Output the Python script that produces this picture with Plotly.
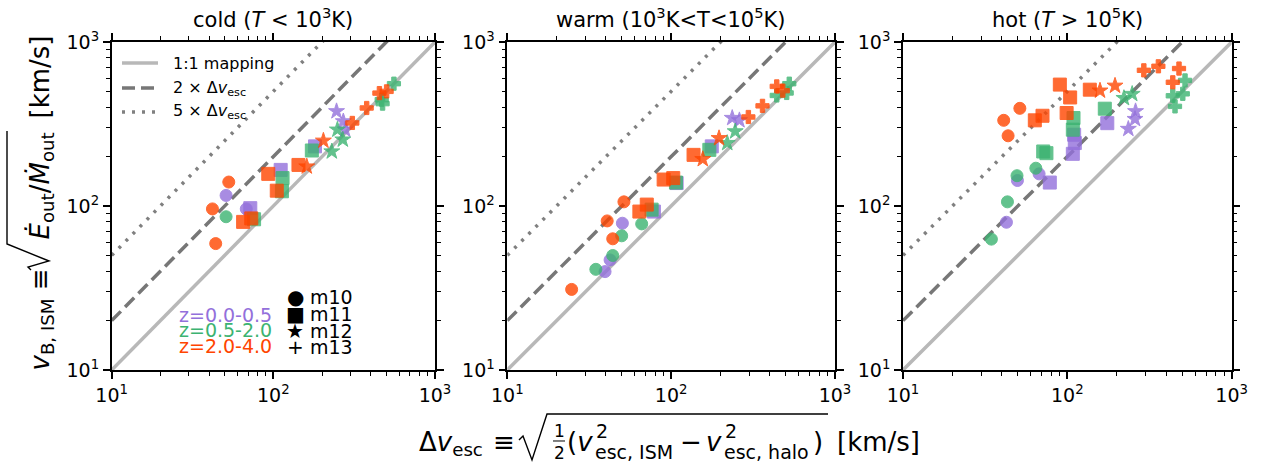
import plotly.graph_objects as go

W, H = 1266, 463
FONT = "DejaVu Sans"

# ---------------- data ----------------
HALOS = ["m10", "m11", "m12", "m13"]
HALO_SYMBOLS = ["circle", "square", "star", "cross"]
HALO_SIZES = [12, 13, 12, 11]
Z_BINS = ["z=0.0-0.5", "z=0.5-2.0", "z=2.0-4.0"]
Z_COLORS = ["#9370DB", "#3CB371", "#FF4500"]

PANEL_TITLES = [
    "cold (<i>T</i> < 10<sup>3</sup>K)",
    "warm (10<sup>3</sup>K<T<10<sup>5</sup>K)",
    "hot (<i>T</i> > 10<sup>5</sup>K)",
]

# cold phase: Delta v_esc [km/s], v_B,ISM [km/s], halo, redshift bin
COLD_DV = [51, 68, 51, 53, 42, 44,
           72, 111, 181, 76, 114, 113, 173, 65, 73, 93, 105, 143,
           246, 271, 278, 249, 269, 230, 161, 204,
           468, 474, 557, 308, 378, 453, 502]
COLD_VB = [116, 96, 86, 140, 96, 59,
           97, 166, 231, 83, 148, 123, 218, 80, 84, 157, 124, 178,
           378, 328, 292, 292, 254, 215, 174, 250,
           445, 421, 557, 321, 396, 488, 500]
COLD_HALO = ["m10", "m10", "m10", "m10", "m10", "m10",
             "m11", "m11", "m11", "m11", "m11", "m11", "m11", "m11", "m11", "m11", "m11", "m11",
             "m12", "m12", "m12", "m12", "m12", "m12", "m12", "m12",
             "m13", "m13", "m13", "m13", "m13", "m13", "m13"]
COLD_Z = [0, 0, 1, 2, 2, 2,
          0, 0, 0, 1, 1, 1, 1, 2, 2, 2, 2, 2,
          0, 0, 0, 1, 1, 1, 2, 2,
          1, 1, 1, 2, 2, 2, 2]

# warm phase
WARM_DV = [39.5, 42.4, 50.4, 34.7, 44.0, 49.9, 66.1, 24.7, 44.0, 40.7, 51.5,
           78.5, 108, 177, 76, 107, 171, 64, 71, 90, 103, 137,
           236, 261, 220, 246, 156, 196,
           441, 507, 526, 296, 361, 441, 480]
WARM_VB = [39.8, 46.9, 78.5, 41.1, 49.9, 65.8, 77.8, 31.0, 63.1, 81.1, 106,
           92.5, 138, 231, 95, 139, 220, 92.5, 102, 145, 148, 205,
           344, 333, 242, 285, 193, 259,
           472, 489, 557, 349, 408, 536, 505]
WARM_HALO = ["m10", "m10", "m10", "m10", "m10", "m10", "m10", "m10", "m10", "m10", "m10",
             "m11", "m11", "m11", "m11", "m11", "m11", "m11", "m11", "m11", "m11", "m11",
             "m12", "m12", "m12", "m12", "m12", "m12",
             "m13", "m13", "m13", "m13", "m13", "m13", "m13"]
WARM_Z = [0, 0, 0, 1, 1, 1, 1, 2, 2, 2, 2,
          0, 0, 0, 1, 1, 1, 2, 2, 2, 2, 2,
          0, 0, 1, 1, 2, 2,
          1, 1, 1, 2, 2, 2, 2]

# hot phase
HOT_DV = [42.6, 49.7, 67.3, 34.5, 43.2, 49.4, 64.3, 41.0, 43.6, 51.4,
          78.2, 110, 111, 108, 175, 71.3, 74.6, 109, 108, 169, 63.4, 70.6, 90, 104, 99, 137,
          235, 258, 260, 221, 248, 158, 195,
          520, 438, 504, 452, 292, 358, 478, 438]
HOT_VB = [79.6, 143, 157, 62.8, 106, 153, 170, 333, 268, 394,
          139, 272, 242, 208, 320, 215, 210, 344, 292, 392, 333, 355, 550, 459, 369, 512,
          295, 339, 378, 455, 482, 505, 541,
          583, 470, 483, 405, 672, 711, 689, 568]
HOT_HALO = ["m10", "m10", "m10", "m10", "m10", "m10", "m10", "m10", "m10", "m10",
            "m11", "m11", "m11", "m11", "m11", "m11", "m11", "m11", "m11", "m11",
            "m11", "m11", "m11", "m11", "m11", "m11",
            "m12", "m12", "m12", "m12", "m12", "m12", "m12",
            "m13", "m13", "m13", "m13", "m13", "m13", "m13", "m13"]
HOT_Z = [0, 0, 0, 1, 1, 1, 1, 2, 2, 2,
         0, 0, 0, 0, 0, 1, 1, 1, 1, 1, 2, 2, 2, 2, 2, 2,
         0, 0, 0, 1, 1, 2, 2,
         1, 1, 1, 1, 2, 2, 2, 2]

PANELS = [
    (COLD_DV, COLD_VB, COLD_HALO, COLD_Z),
    (WARM_DV, WARM_VB, WARM_HALO, WARM_Z),
    (HOT_DV, HOT_VB, HOT_HALO, HOT_Z),
]

# reference relations v_B = k * Delta v_esc
REF_FACTORS = [1, 2, 5]
REF_LABELS = ["1:1 mapping", "2 × Δ<i>v</i><sub>esc</sub>", "5 × Δ<i>v</i><sub>esc</sub>"]
REF_COLORS = ["#b8b8b8", "#777777", "#808080"]
REF_DASH = ["solid", "13px,6px", "3px,7px"]
REF_X = [10, 1000]

MAJOR_TICKS = [10, 100, 1000]
MAJOR_LABELS = ["10<sup>1</sup>", "10<sup>2</sup>", "10<sup>3</sup>"]
MINOR_TICKS = [20, 30, 40, 50, 60, 70, 80, 90, 200, 300, 400, 500, 600, 700, 800, 900]

# ---------------- layout helpers (pixel -> paper) ----------------
def px(x):
    return x / W


def py(y):
    return 1 - y / H


X_DOMAINS = [(111.7, 435.0), (507.3, 835.0), (903.0, 1231.7)]
Y_DOMAIN = (370.0, 42.0)

fig = go.Figure()

for i, (dv, vb, halo, zb) in enumerate(PANELS):
    xa = "x" if i == 0 else f"x{i + 1}"
    ya = "y" if i == 0 else f"y{i + 1}"
    for k, col, dash in zip(REF_FACTORS, REF_COLORS, REF_DASH):
        fig.add_trace(go.Scatter(
            x=REF_X, y=[k * v for v in REF_X], mode="lines",
            line=dict(color=col, width=3.5, dash=dash),
            xaxis=xa, yaxis=ya, showlegend=False, hoverinfo="skip"))
    for h, sym, size in zip(HALOS, HALO_SYMBOLS, HALO_SIZES):
        for z, col in enumerate(Z_COLORS):
            xs = [a for a, hh, zz in zip(dv, halo, zb) if hh == h and zz == z]
            ys = [b for b, hh, zz in zip(vb, halo, zb) if hh == h and zz == z]
            if not xs:
                continue
            fig.add_trace(go.Scatter(
                x=xs, y=ys, mode="markers",
                marker=dict(symbol=sym, size=size, color=col, opacity=0.8,
                            line=dict(color=col, width=1)),
                xaxis=xa, yaxis=ya, showlegend=False))

axis_style = dict(
    type="log", range=[1, 3], showline=True, linecolor="black", linewidth=1.5,
    mirror="allticks", ticks="outside", ticklen=7, tickwidth=1.5, tickcolor="black",
    tickmode="array", tickvals=MAJOR_TICKS, ticktext=MAJOR_LABELS,
    tickfont=dict(family=FONT, size=19, color="black"),
    showgrid=False, zeroline=False, automargin=False,
    minor=dict(tickmode="array", tickvals=MINOR_TICKS, ticks="outside",
               ticklen=4, tickwidth=1, tickcolor="black", showgrid=False),
)

layout = dict(
    width=W, height=H, margin=dict(l=0, r=0, t=0, b=0, pad=0, autoexpand=False),
    paper_bgcolor="white", plot_bgcolor="white", showlegend=False,
    font=dict(family=FONT, color="black"),
)
for i, (x0, x1) in enumerate(X_DOMAINS):
    sx = "" if i == 0 else str(i + 1)
    layout[f"xaxis{sx}"] = dict(axis_style, domain=[px(x0), px(x1)],
                                anchor=f"y{sx}")
    layout[f"yaxis{sx}"] = dict(axis_style, domain=[py(Y_DOMAIN[0]), py(Y_DOMAIN[1])],
                                anchor=f"x{sx}")
fig.update_layout(**layout)

annotations = []
shapes = []


def text(x, y, s, size, xanchor="center", yanchor="middle", color="black", angle=0):
    annotations.append(dict(
        x=px(x), y=py(y), xref="paper", yref="paper", text=s, showarrow=False,
        xanchor=xanchor, yanchor=yanchor, borderpad=0, textangle=angle,
        font=dict(family=FONT, size=size, color=color)))


def path(points, width=1.4, color="black"):
    d = "M " + " L ".join(f"{px(a):.5f},{py(b):.5f}" for a, b in points)
    shapes.append(dict(type="path", path=d, xref="paper", yref="paper",
                       line=dict(color=color, width=width)))


# panel titles
for (x0, x1), title in zip(X_DOMAINS, PANEL_TITLES):
    text((x0 + x1) / 2, 18, title, 21)

# line legend in the first panel
for row_y, lab, col, dash in zip([63, 88, 112], REF_LABELS, REF_COLORS, REF_DASH):
    shapes.append(dict(type="line", xref="paper", yref="paper",
                       x0=px(122), x1=px(158), y0=py(row_y), y1=py(row_y),
                       line=dict(color=col, width=3.5, dash=dash)))
    text(172, row_y, lab, 16, xanchor="left")

# marker / redshift key
for row_y, glyph, h in zip([297, 314, 331, 347], ["●", "■", "★", "+"], HALOS):
    text(295, row_y, glyph, 20)
    text(309, row_y, h, 19, xanchor="left")
for row_y, lab, col in zip([315, 330, 346], Z_BINS, Z_COLORS):
    text(273, row_y, lab, 19, xanchor="right", color=col)

# x-axis label: Δv_esc ≡ sqrt( 1/2 (v²_esc,ISM − v²_esc,halo) ) [km/s]
XT = 426
text(418, XT, "Δ<i>v</i><sub>esc</sub>", 26, xanchor="left", yanchor="top")
text(492, XT, "≡", 26, xanchor="left", yanchor="top")
path([(519, 440), (523, 436), (532, 460), (547, 414), (828, 414)])
text(559, 420, "1", 17, yanchor="top")
text(559, 442, "2", 17, yanchor="top")
path([(553, 441), (565, 441)], width=1)
text(566, XT, "(<i>v</i>", 26, xanchor="left", yanchor="top")
text(595, 419, "2", 19, xanchor="left", yanchor="top")
text(594, 440, "esc, ISM", 19, xanchor="left", yanchor="top")
text(679, XT, "−", 26, xanchor="left", yanchor="top")
text(705, XT, "<i>v</i>", 26, xanchor="left", yanchor="top")
text(724, 419, "2", 19, xanchor="left", yanchor="top")
text(723, 440, "esc, halo", 19, xanchor="left", yanchor="top")
text(812, XT, ")", 26, xanchor="left", yanchor="top")
text(836, XT, "[km/s]", 26, xanchor="left", yanchor="top")

# y-axis label: v_B,ISM ≡ sqrt(Ė_out / Ṁ_out) [km/s]
YL = 23
text(YL, 372, "<i>v</i><sub>B, ISM</sub> ≡", 26, xanchor="left", yanchor="bottom", angle=-90)
path([(31, 270), (28, 267), (49, 261), (7, 244), (7, 131)])
text(YL, 241, "<i>Ė</i><sub>out</sub>/<i>Ṁ</i><sub>out</sub>", 26,
     xanchor="left", yanchor="bottom", angle=-90)
text(YL, 35, "[km/s]", 26, xanchor="left", yanchor="top", angle=-90)

fig.update_layout(annotations=annotations, shapes=shapes)
fig.write_html("out.html")
